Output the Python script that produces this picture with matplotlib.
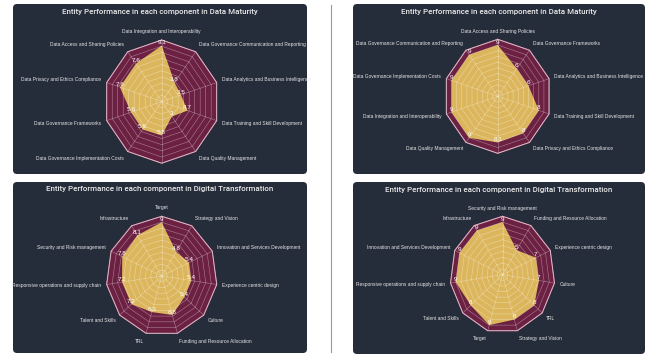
import matplotlib.pyplot as plt
import numpy as np
from matplotlib.patches import FancyBboxPatch
from matplotlib.lines import Line2D
from matplotlib.transforms import IdentityTransform

W, H = 651, 356

# Data Maturity (left entity)
dm_a_labels = ["Data Integration and Interoperability",
               "Data Governance Communication and Reporting",
               "Data Analytics and Business Intelligence",
               "Data Training and Skill Development",
               "Data Quality Management",
               "",
               "Data Governance Implementation Costs",
               "Data Governance Frameworks",
               "Data Privacy and Ethics Compliance",
               "Data Access and Sharing Policies"]
dm_a_values = [9.1, 3.8, 3.5, 4.7, 3, 5.5, 5.6, 5.6, 7.6, 7.6]

# Data Maturity (right entity)
dm_b_labels = ["Data Access and Sharing Policies",
               "Data Governance Frameworks",
               "Data Analytics and Business Intelligence",
               "Data Training and Skill Development",
               "Data Privacy and Ethics Compliance",
               "",
               "Data Quality Management",
               "Data Integration and Interoperability",
               "Data Governance Implementation Costs",
               "Data Governance Communication and Reporting"]
dm_b_values = [9, 6, 6, 8, 8, 8.1, 9, 9, 9, 9]

# Digital Transformation (left entity)
dt_a_labels = ["Target", "Strategy and Vision",
               "Innovation and Services Development",
               "Experience centric design", "Culture",
               "Funding and Resource Allocation", "TRL",
               "Talent and Skills",
               "Responsive operations and supply chain",
               "Security and Risk management", "Infrastructure"]
dt_a_values = [9, 4.8, 5.4, 5.4, 5.4, 6.8, 6.3, 7.2, 7.2, 7.8, 8.1]

# Digital Transformation (right entity)
dt_b_labels = ["Security and Risk management",
               "Funding and Resource Allocation",
               "Experience centric design", "Culture", "TRL",
               "Strategy and Vision", "Target", "Talent and Skills",
               "Responsive operations and supply chain",
               "Innovation and Services Development", "Infrastructure"]
dt_b_values = [9, 5, 7, 7, 8, 8, 9, 8, 9, 9, 9]

title_dm = "Entity Performance in each component in Data Maturity"
title_dt = "Entity Performance in each component in Digital Transformation"

CARD = "#252c3a"
MAROON = "#6c2143"
GOLD = "#e3bf5e"
TITLE_FONT = ["Roboto", "DejaVu Sans"]
LABEL_FONT = ["Liberation Sans", "DejaVu Sans"]

fig = plt.figure(figsize=(W / 100, H / 100), dpi=100)
fig.patch.set_facecolor("white")


def card(x0, y0, x1, y1):
    p = FancyBboxPatch((x0, H - y1), x1 - x0, y1 - y0,
                       boxstyle="round,pad=0,rounding_size=4",
                       transform=IdentityTransform(), fc=CARD, ec="none",
                       zorder=-5)
    fig.add_artist(p)


def radar(box, center, rx, ry, labels, values, title, title_y):
    x0, y0, x1, y1 = box
    cx, cy = center
    sx, sy = rx / 10, ry / 10
    card(x0, y0, x1, y1)
    ax = fig.add_axes([x0 / W, 1 - y1 / H, (x1 - x0) / W, (y1 - y0) / H])
    ax.set_xlim((x0 - cx) / sx, (x1 - cx) / sx)
    ax.set_ylim((cy - y1) / sy, (cy - y0) / sy)
    ax.axis("off")

    n = len(values)
    ang = np.pi / 2 - 2 * np.pi * np.arange(n) / n
    c, s = np.cos(ang), np.sin(ang)
    cc, sc = np.append(c, c[0]), np.append(s, s[0])

    ax.fill(10 * cc, 10 * sc, color=MAROON, zorder=1)
    v = np.array(values, dtype=float)
    ax.fill(np.append(v * c, v[0] * c[0]), np.append(v * s, v[0] * s[0]),
            color=GOLD, alpha=0.95, zorder=2, lw=0)
    for k in range(1, 11):
        ax.plot(k * cc, k * sc, color="white", lw=0.4, alpha=0.42, zorder=3)
    for i in range(n):
        ax.plot([0, 10 * c[i]], [0, 10 * s[i]], color="white", lw=0.4,
                alpha=0.42, zorder=3)
    ax.plot(10 * cc, 10 * sc, color="#d9b8c6", lw=0.7, zorder=3)

    for i in range(n):
        ax.annotate(f"{v[i]:g}", (v[i] * c[i], v[i] * s[i]),
                    xytext=(0, 0.3), textcoords="offset points",
                    color="white", fontsize=4.6, ha="center", va="bottom",
                    zorder=4, family=LABEL_FONT)
        if abs(c[i]) < 0.05:
            ha = "center"
        else:
            ha = "left" if c[i] > 0 else "right"
        ax.text(11.0 * c[i], 11.4 * s[i], labels[i], color="#e6e6e6",
                fontsize=3.5, ha=ha, va="center", family=LABEL_FONT)

    ax.text(0.5, 1 - (title_y - y0) / (y1 - y0), title,
            transform=ax.transAxes, ha="center", va="center",
            color="#ececec", fontsize=5.7, fontweight="medium",
            family=TITLE_FONT)


radar((13, 4, 307, 174), (161.7, 101.6), 57.8, 61.6,
      dm_a_labels, dm_a_values, title_dm, 11.8)
radar((353, 4, 645, 174), (497.7, 96.3), 54, 57,
      dm_b_labels, dm_b_values, title_dm, 12.2)
radar((13, 182, 307, 353), (161.7, 276), 55.6, 59.7,
      dt_a_labels, dt_a_values, title_dt, 189)
radar((353, 182, 645, 354), (502.5, 274.7), 52.5, 58.4,
      dt_b_labels, dt_b_values, title_dt, 189.6)

fig.add_artist(Line2D([331 / W, 331 / W], [1 - 5 / H, 1 - 352 / H],
                      transform=fig.transFigure, color="#9a9a9a", lw=0.8))

fig.savefig("out.png", dpi=100, facecolor="white")
